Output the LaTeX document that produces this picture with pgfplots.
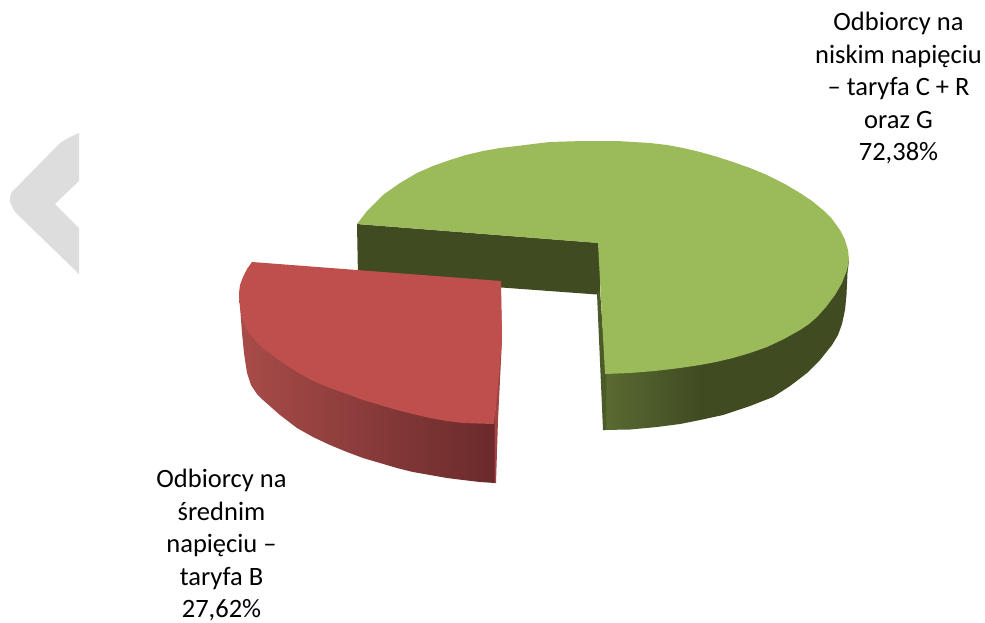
\documentclass[border=0pt]{standalone}
\usepackage{pgfplots}
\pgfplotsset{compat=1.18}
\usepackage{fontspec}
\setmainfont{Carlito}
\definecolor{greentop}{HTML}{9BBA5A}
\definecolor{greenside}{HTML}{404B22}
\definecolor{greenlight}{HTML}{5A6B32}
\definecolor{greenedge}{HTML}{4A5A28}
\definecolor{redtop}{HTML}{BE4F4C}
\definecolor{redleft}{HTML}{A84C49}
\definecolor{redright}{HTML}{6A2A2B}
\definecolor{rededge}{HTML}{A04542}
\definecolor{chevron}{HTML}{DDDDDD}

\begin{document}
\begin{tikzpicture}
\begin{axis}[
  scale only axis, width=985pt, height=622pt,
  xmin=0, xmax=985, ymin=0, ymax=622, y dir=reverse,
  hide axis, clip=true,
  every axis plot/.append style={draw=none, line join=round}
]
% white page, keeps the bounding box at full size
\addplot[fill=white] coordinates {(0,0) (985,0) (985,622) (0,622)} --cycle;

% chevron at the left edge
\addplot[fill=chevron] coordinates {(79,133) (70,137) (60,143) (12,192) (10,197) (10,202) (15,212) (79,274) (79,228) (55,204) (79,181)} --cycle;

% green slice: outer side, then inner walls, then top
\addplot[fill=greenside] coordinates {(700,300) (700,420) (723,415) (750,406) (773,397) (790,386) (807,373) (820,360) (832,345) (838,335) (842,324) (845,310) (846.5,295) (847.5,273) (849,260)} --cycle;
\addplot[left color=greenlight, right color=greenside] coordinates {(603,430) (630,429.5) (657,427) (680,424) (700,420) (700.5,350) (603,350)} --cycle;
\addplot[fill=greenside] coordinates {(357,224) (600,243) (600,294.5) (597,294.5) (358,277)} --cycle;
\addplot[fill=greenedge] coordinates {(597,294) (603,430) (606,430) (606,374) (600,290)} --cycle;
\addplot[fill=greentop] coordinates {(357,224) (367,211) (383,195) (400,183) (417,173) (433,166) (450,160) (466,155) (483,151) (500,148) (517,146) (533,144) (550,142) (566,141.5) (583,141) (600,141) (617,141) (633,142) (650,143) (667,145) (683,148) (700,152) (716,156.5) (733,162) (750,168) (767,175) (784,183.5) (800,193) (812,201) (823,210) (832,219) (840,230) (845,240) (848,250) (849,260) (847,270) (842,283) (835,295) (826,307) (817,317) (809,324) (800,330) (784,339) (767,347) (750,353) (733,358) (716,362) (700,365) (680,368) (655,371) (630,373) (605,374) (598,243)} --cycle;

% red slice
\addplot[left color=redleft, right color=redright] coordinates {(239,293) (242,333) (244,353) (247,373) (251,385) (257,394) (263,400) (280,415) (297,428) (313,437) (330,445) (347,452) (363,458) (380,463) (397,468) (413,472) (430,475) (447,478) (463,480) (480,482) (495,483) (495,400) (300,340)} --cycle;
\addplot[fill=rededge] coordinates {(501,300) (502,340) (498,420) (496,483) (494.5,483) (494.5,424)} --cycle;
\addplot[fill=redtop] coordinates {(252,262) (501,281) (502,340) (498,385) (494,424) (478,423.5) (463,423) (447,421) (430,418) (413,414) (397,410) (380,405) (363,400) (347,394) (330,388) (313,381) (297,372) (280,361) (263,348) (254,339) (247,330) (242,318) (240,307) (239,293) (240,285) (243,277) (247,269)} --cycle;

% labels
\node[align=center, inner sep=0pt, font=\fontsize{26.5}{32.5}\selectfont, anchor=north] at (axis cs:898.5,12) {Odbiorcy na\\niskim napięciu\\– taryfa C + R\\oraz G\\72,38\%};
\node[align=center, inner sep=0pt, font=\fontsize{26.5}{32.5}\selectfont, anchor=north] at (axis cs:221.5,469) {Odbiorcy na\\średnim\\napięciu –\\taryfa B\\27,62\%};
\end{axis}
\end{tikzpicture}
\end{document}
